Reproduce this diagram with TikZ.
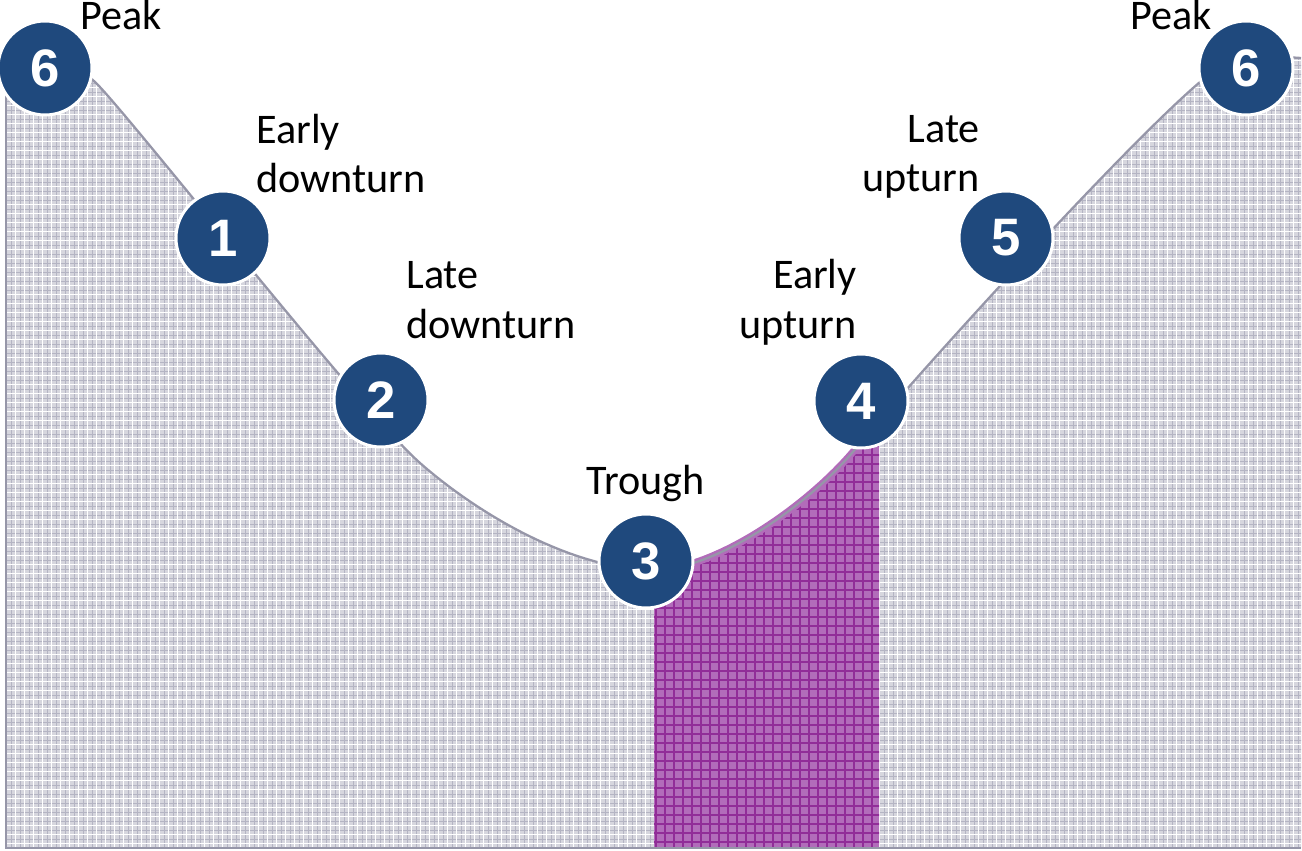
\documentclass[tikz,border=0pt]{standalone}
\usepackage{fontspec}
\setmainfont{Carlito}
\newfontfamily\numfont{Liberation Sans}
\definecolor{circleblue}{RGB}{31,73,125}
\definecolor{areagrey}{RGB}{214,214,222}
\definecolor{areagrid}{RGB}{180,180,195}
\definecolor{edgegrey}{RGB}{150,150,168}
\definecolor{phasepurple}{RGB}{178,108,186}
\definecolor{phasegrid}{RGB}{145,45,152}
\tikzset{
  stage/.style={circle, minimum size=1.88cm, inner sep=0pt, fill=circleblue,
    draw=white, line width=1.7pt, text=white, font=\numfont\bfseries\fontsize{30}{30}\selectfont},
  phase/.style={inner sep=0pt, font=\fontsize{24}{28}\selectfont},
  edge/.style={draw=edgegrey, line width=1.3pt},
  cyclecurve/.style={insert path={
    .. controls (25,55) and (65,54) .. (95,82)
    .. controls (125,110) and (360,410) .. (420,463)
    .. controls (470,507) and (560,565) .. (646,570)
    .. controls (710,575) and (810,505) .. (857,447)
    .. controls (900,394) and (1120,150) .. (1200,82)
    .. controls (1225,61) and (1260,55) .. (1301,58)}},
}
\begin{document}
\begin{tikzpicture}[x={(0.02cm,0)}, y={(0,-0.02cm)}]
\useasboundingbox (0,0) rectangle (1302,851);
% area under the cycle curve
\fill[areagrey] (6,848) -- (6,72) [cyclecurve] -- (1301,848) -- cycle;
\begin{scope}
  \clip (6,848) -- (6,72) [cyclecurve] -- (1301,848) -- cycle;
  \foreach \x in {2,11,...,1302} \draw[areagrid, line width=0.45pt] (\x,0) -- (\x,851);
  \foreach \y in {2,11,...,851} \draw[areagrid, line width=0.45pt] (0,\y) -- (1302,\y);
  \foreach \x in {6,15,...,1302} \draw[white, line width=0.35pt] (\x,0) -- (\x,851);
  \foreach \y in {6,15,...,851} \draw[white, line width=0.35pt] (0,\y) -- (1302,\y);
  % highlighted band between trough and early upturn
  \clip (654,0) rectangle (879,851);
  \fill[phasepurple] (0,0) rectangle (1302,851);
  \foreach \x in {656,665,...,880} \draw[phasegrid, line width=0.7pt] (\x,0) -- (\x,851);
  \foreach \y in {5,14,...,851} \draw[phasegrid, line width=0.7pt] (0,\y) -- (1302,\y);
\end{scope}
\begin{scope}
  \clip (654,0) rectangle (879,851);
  \draw[phasepurple, line width=4pt] (6,72) [cyclecurve];
\end{scope}
% outline
\draw[edge] (6,72) [cyclecurve];
\draw[edgegrey, line width=1.6pt] (6,90) -- (6,848) -- (1301,848);

% stages
\node[stage] (s6l) at (45,68) {6};
\node[stage] (s1) at (223,238) {1};
\node[stage] (s2) at (381,400) {2};
\node[stage] (s3) at (646,561) {3};
\node[stage] (s4) at (861,401) {4};
\node[stage] (s5) at (1006,238) {5};
\node[stage] (s6r) at (1246,68) {6};

% labels (multi-line labels are placed by their last baseline)
\node[phase, anchor=base west] (lpeakl) at (80,30) {Peak};
\node[phase, anchor=base west, align=left] (l1) at (256,193) {Early\\downturn};
\node[phase, anchor=base west, align=left] (l2) at (406,338) {Late\\downturn};
\node[phase, anchor=base west] (l3) at (586,494) {Trough};
\node[phase, anchor=base east, align=right] (l4) at (857,338) {Early\\upturn};
\node[phase, anchor=base east, align=right] (l5) at (980,192) {Late\\upturn};
\node[phase, anchor=base west] (lpeakr) at (1130,30) {Peak};
\end{tikzpicture}
\end{document}
